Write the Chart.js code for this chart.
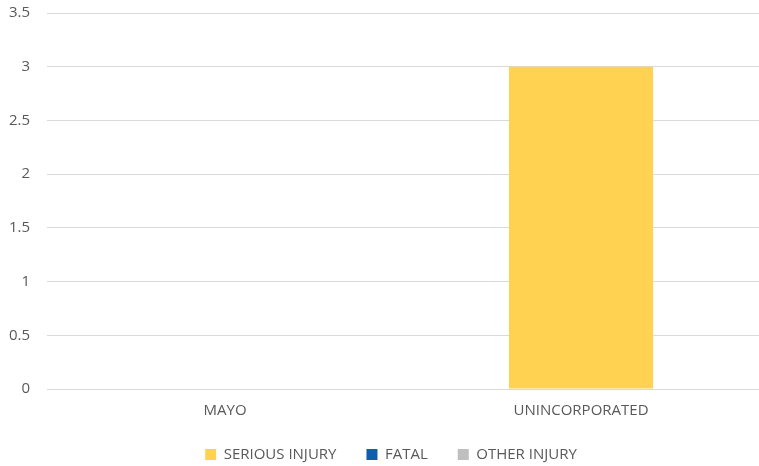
<!DOCTYPE html>
<html>
<head>
<meta charset="utf-8">
<script src="https://cdn.jsdelivr.net/npm/chart.js@4/dist/chart.umd.min.js"></script>
<style>
  html, body { margin: 0; padding: 0; background: #fff; }
  #wrap { width: 759px; height: 466px; }
</style>
</head>
<body>
<div id="wrap"><canvas id="chart"></canvas></div>
<script>
const categories = ['MAYO', 'UNINCORPORATED']
const seriousInjury = [0, 3]
const fatal = [0, 0]
const otherInjury = [0, 0]
const yTicks = [0, 0.5, 1, 1.5, 2, 2.5, 3, 3.5]

const font = { family: "'Open Sans', 'Liberation Sans', sans-serif", size: 15 }

// wide gaps between legend items without a tall legend box
const legendSpacing = {
	id: 'legendSpacing',
	beforeUpdate(chart) {
		const lg = chart.legend
		if (!lg || lg._spaced) return
		lg._spaced = true
		const fit = lg.fit
		lg.fit = function () {
			fit.call(this)
			this.height -= 22
		}
		const draw = lg.draw
		lg.draw = function (area) {
			this.top -= 16
			this.left += 31
			draw.call(this, area)
			this.top += 16
			this.left -= 31
		}
	},
}

new Chart(document.getElementById('chart'), {
	type: 'bar',
	data: {
		labels: categories,
		datasets: [
			{ label: 'SERIOUS INJURY', data: seriousInjury, backgroundColor: '#FFD351' },
			{ label: 'FATAL', data: fatal, backgroundColor: '#0F5FAB' },
			{ label: 'OTHER INJURY', data: otherInjury, backgroundColor: '#BFBFBF' },
		],
	},
	plugins: [legendSpacing],
	options: {
		responsive: true,
		maintainAspectRatio: false,
		animation: false,
		layout: { padding: { top: 13, right: 0, left: -8, bottom: 0 } },
		datasets: {
			bar: { barPercentage: 0.405, categoryPercentage: 1, borderWidth: 0 },
		},
		scales: {
			x: {
				stacked: true,
				grid: { display: false, drawTicks: false },
				border: { color: '#D9D9D9', width: 1 },
				ticks: { color: '#595959', font, padding: 13 },
			},
			y: {
				stacked: true,
				min: 0,
				max: 3.5,
				afterBuildTicks(axis) {
					axis.ticks = yTicks.map(v => ({ value: v }))
				},
				afterFit(axis) {
					axis.paddingTop = 0
				},
				grid: { color: '#D9D9D9', lineWidth: 1, drawTicks: false },
				border: { display: false },
				ticks: { color: '#595959', font, padding: 17, callback: v => String(v) },
			},
		},
		plugins: {
			legend: {
				position: 'bottom',
				labels: {
					color: '#595959',
					font,
					boxWidth: 11,
					boxHeight: 11,
					padding: 30,
				},
			},
			tooltip: { enabled: false },
		},
	},
})
</script>
</body>
</html>
